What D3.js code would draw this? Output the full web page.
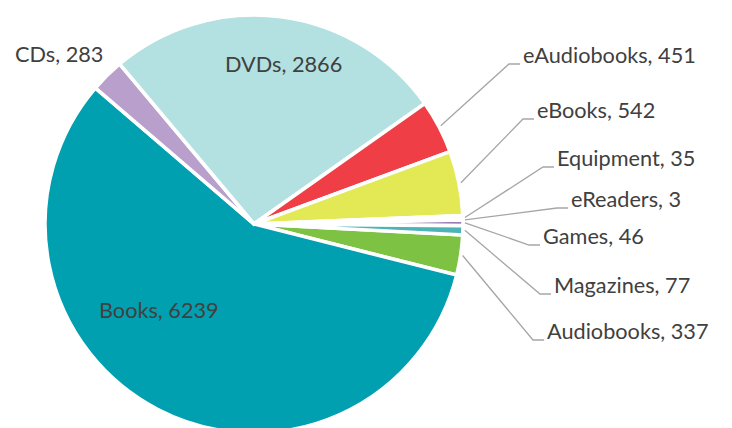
<!DOCTYPE html>
<html>
<head>
<meta charset="utf-8">
<script src="https://cdn.jsdelivr.net/npm/d3@7"></script>
<style>
  html, body { margin: 0; padding: 0; background: #fff; }
  svg { display: block; }
  text { font-family: Lato, "Open Sans", sans-serif; fill: #404040; }
</style>
</head>
<body>
<svg id="chart" width="732" height="428"></svg>
<script>
// ---- data ----
const categories = ["Audiobooks", "Books", "CDs", "DVDs", "eAudiobooks", "eBooks", "Equipment", "eReaders", "Games", "Magazines"];
const values = [337, 6239, 283, 2866, 451, 542, 35, 3, 46, 77];
const colors = ["#7DC242", "#00A0B0", "#B89FCC", "#B3E0E0", "#EF3E45", "#E2E955", "#F6F6F6", "#DDDDDD", "#7B4F9D", "#4DB3B5"];

// ---- layout ----
const W = 732, H = 428;
const cx = 254, cy = 224, R = 209;
const startDeg = 93;
const fontSize = 21.7;
// label anchor (x of text start, baseline y)
const labelPos = {
  "Books": [99, 318, false],
  "DVDs": [225, 72, false],
  "CDs": [15, 62, false],
  "eAudiobooks": [523, 63, true],
  "eBooks": [537, 118, true],
  "Equipment": [557, 166, true],
  "eReaders": [571, 207, true],
  "Games": [543, 244, true],
  "Magazines": [554, 293, true],
  "Audiobooks": [547, 339, true]
};

const data = categories.map((c, i) => ({ cat: c, value: values[i], color: colors[i] }));

const svg = d3.select("#chart");
const g = svg.append("g").attr("transform", `translate(${cx},${cy})`);

const pie = d3.pie()
  .sort(null)
  .value(d => d.value)
  .startAngle(startDeg * Math.PI / 180)
  .endAngle(startDeg * Math.PI / 180 + 2 * Math.PI);

const arcs = pie(data);
const arc = d3.arc().innerRadius(0).outerRadius(R);
const edgeArc = d3.arc().innerRadius(R + 2).outerRadius(R + 2);

g.selectAll("path.slice")
  .data(arcs)
  .join("path")
  .attr("class", "slice")
  .attr("d", arc)
  .attr("fill", d => d.data.color)
  .attr("stroke", "#fff")
  .attr("stroke-width", 3.6)
  .attr("stroke-linejoin", "miter");

// leader lines
const lines = svg.append("g");
arcs.forEach(a => {
  const p = labelPos[a.data.cat];
  if (!p[2]) return;
  const c = edgeArc.centroid(a);
  const sx = cx + c[0], sy = cy + c[1];
  const ly = p[1] + 1;
  lines.append("polyline")
    .attr("points", `${sx},${sy} ${p[0] - 14},${ly} ${p[0] - 3},${ly}`)
    .attr("fill", "none")
    .attr("stroke", "#A6A6A6")
    .attr("stroke-width", 1.3);
});

// labels
svg.append("g").selectAll("text")
  .data(arcs)
  .join("text")
  .attr("x", d => labelPos[d.data.cat][0])
  .attr("y", d => labelPos[d.data.cat][1])
  .attr("font-size", fontSize)
  .text(d => `${d.data.cat}, ${d.data.value}`);
</script>
</body>
</html>
